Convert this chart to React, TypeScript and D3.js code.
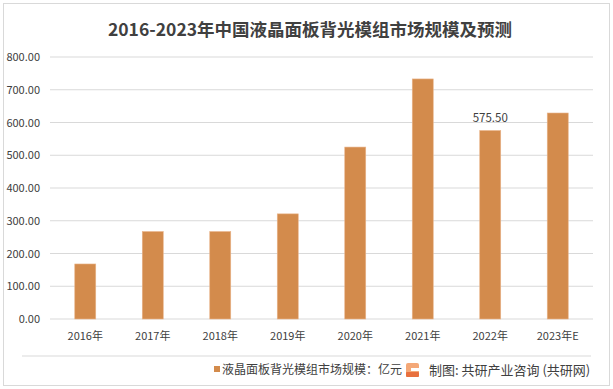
import React from 'react';
import * as d3 from 'd3';

const years = ['2016年', '2017年', '2018年', '2019年', '2020年', '2021年', '2022年', '2023年E'];
const values = [168, 267, 267, 321, 525, 733, 575.5, 629];
const yTicks = [0, 100, 200, 300, 400, 500, 600, 700, 800];
const labelled = ['2022年'];

const W = 613;
const H = 389;
const font = '"Noto Sans CJK SC", "Noto Sans", sans-serif';

const App = () => {
  const x = d3.scaleBand().domain(years).range([50, 593]).paddingInner(0.689).paddingOuter(0.367);
  const y = d3.scaleLinear().domain([0, 800]).range([319, 57]);

  return (
    <svg width={W} height={H} style={{ position: 'absolute', left: 0, top: 0, background: '#fff' }}>
      <rect x={3.5} y={3.5} width={W - 7} height={H - 7} fill="#fff" stroke="#d9d9d9" />
      <text x={310} y={36} textAnchor="middle" fontFamily={font} fontWeight="bold" fontSize={17.5} fill="#404040">
        2016-2023年中国液晶面板背光模组市场规模及预测
      </text>
      {yTicks.map(t => (
        <g key={t}>
          {t > 0 && <line x1={50} x2={593} y1={y(t)} y2={y(t)} stroke="#d9d9d9" />}
          <text x={40} y={y(t) + 4} textAnchor="end" fontFamily={font} fontSize={11} fill="#404040">
            {d3.format('.2f')(t)}
          </text>
        </g>
      ))}
      <line x1={50} x2={593} y1={y(0)} y2={y(0)} stroke="#d9d9d9" />
      {years.map((c, i) => (
        <g key={c}>
          <rect x={x(c)} y={y(values[i])} width={x.bandwidth()} height={y(0) - y(values[i])} fill="#D38B4C" stroke="#e9b48a" strokeWidth={0.6} />
          <text x={(x(c) as number) + x.bandwidth() / 2} y={340} textAnchor="middle" fontFamily={font} fontSize={11} fill="#404040">{c}</text>
          {labelled.includes(c) && (
            <text x={(x(c) as number) + x.bandwidth() / 2} y={y(values[i]) - 9} textAnchor="middle" fontFamily={font} fontSize={11.5} fill="#404040">
              {d3.format('.2f')(values[i])}
            </text>
          )}
        </g>
      ))}
      <line x1={22} x2={591} y1={356} y2={356} stroke="#d9d9d9" />
      <rect x={214} y={366} width={6} height={6} fill="#D38B4C" />
      <text x={222} y={374} fontFamily={font} fontSize={12} fill="#404040">液晶面板背光模组市场规模：亿元</text>
      <g transform="translate(406,363)">
        <rect x={0} y={0} width={13} height={14} rx={2} fill="#f4a878" />
        <rect x={5} y={5} width={8} height={3} fill="#fff" />
        <rect x={0} y={9} width={13} height={5} rx={1} fill="#e8703e" />
      </g>
      <text x={429} y={375} fontFamily={font} fontSize={13} fill="#404040">制图: 共研产业咨询 (共研网)</text>
    </svg>
  );
};

export default App;
